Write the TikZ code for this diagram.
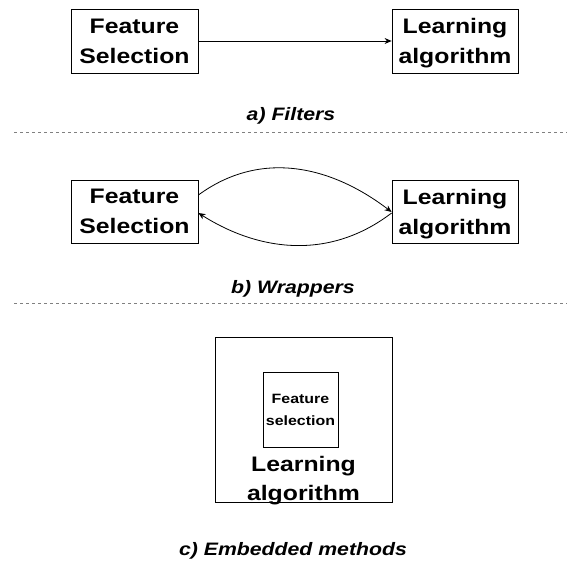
\documentclass[tikz,border=0pt]{standalone}
\usepackage{fontspec}
\setmainfont[FakeStretch=1.18]{Liberation Sans}
\usetikzlibrary{arrows.meta,calc}
\begin{document}
\begin{tikzpicture}[x=1pt,y=-1pt,
  box/.style={draw=black,line width=0.8pt,inner sep=0pt,align=center,text depth=0pt,
    font=\fontsize{21}{30}\selectfont\bfseries},
  smallbox/.style={draw=black,line width=0.7pt,inner sep=0pt,align=center,
    font=\fontsize{13.5}{22}\selectfont\bfseries},
  lbl/.style={inner sep=0pt,align=center,text depth=0pt,font=\fontsize{21}{29}\selectfont\bfseries},
  captxt/.style={inner sep=0pt,font=\fontsize{18}{22}\selectfont\bfseries\itshape},
  conn/.style={line width=0.8pt,-{Stealth[length=7pt,width=6pt]}},
  sepline/.style={draw=gray,line width=0.8pt,dash pattern=on 3pt off 3pt}]
\useasboundingbox (0,0) rectangle (581,569);
% a) Filters
\node[box,minimum width=127pt,minimum height=64pt] (fs1) at (134.5,41) {Feature\\Selection};
\node[box,minimum width=126pt,minimum height=64pt] (la1) at (455,41) {Learning\\algorithm};
\draw[conn] (fs1) -- (la1);
\node[captxt] (ca) at (291,116) {a) Filters};
\coordinate (s1l) at (14,132);
\coordinate (s1r) at (567,132);
\draw[sepline] (s1l) -- (s1r);
% b) Wrappers
\node[box,minimum width=127pt,minimum height=63pt] (fs2) at (134.5,211.5) {Feature\\Selection};
\node[box,minimum width=126pt,minimum height=63pt] (la2) at (455,211.5) {Learning\\algorithm};
\draw[conn] ($(fs2.east)+(0,-16.5)$) .. controls (260,150) and (330,165) .. ($(la2.west)+(0,0.5)$);
\draw[conn] ($(la2.west)+(0,1.5)$) .. controls (330,260) and (260,252) .. ($(fs2.east)+(0,1.5)$);
\node[captxt] (cb) at (293,289) {b) Wrappers};
\coordinate (s2l) at (14,303);
\coordinate (s2r) at (567,303);
\draw[sepline] (s2l) -- (s2r);
% c) Embedded
\node[draw=black,line width=0.8pt,minimum width=177pt,minimum height=165pt,inner sep=0pt] (outer) at (303.5,419.5) {};
\node[smallbox,minimum width=75pt,minimum height=75pt] (inner) at (300.5,409.5) {Feature\\selection};
\node[lbl] (la3) at (303.5,478) {Learning\\algorithm};
\node[captxt] (cc) at (293,551) {c) Embedded methods};
\end{tikzpicture}
\end{document}
